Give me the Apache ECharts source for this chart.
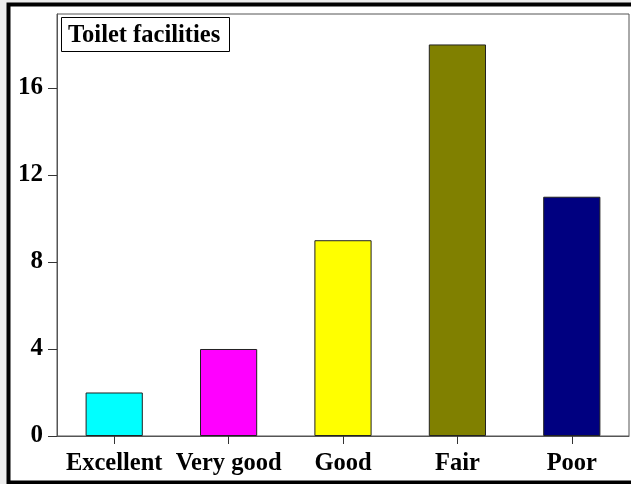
<!DOCTYPE html>
<html>
<head>
<meta charset="utf-8">
<script src="https://cdn.jsdelivr.net/npm/echarts@6/dist/echarts.min.js"></script>
<style>
  html, body { margin: 0; padding: 0; background: #ececec; }
  #chart { width: 631px; height: 484px; }
</style>
</head>
<body>
<div id="chart"></div>
<script>
// Ratings of toilet facilities
const categories = ['Excellent', 'Very good', 'Good', 'Fair', 'Poor'];
const counts = [2, 4, 9, 18, 11];
const barColors = ['#00ffff', '#ff00ff', '#ffff00', '#808000', '#000080'];
const yTicks = [0, 4, 8, 12, 16];

const serif = '"Liberation Serif", "Times New Roman", serif';

const chart = echarts.init(document.getElementById('chart'), null, { renderer: 'canvas' });

chart.setOption({
  animation: false,
  backgroundColor: 'transparent',
  graphic: [
    {
      type: 'rect',
      shape: { x: 8.5, y: 4.5, width: 660, height: 478 },
      style: { fill: '#ffffff', stroke: '#000000', lineWidth: 4 },
      z: -10
    }
  ],
  title: {
    text: 'Toilet facilities',
    left: 61,
    top: 17,
    padding: [6, 10, 4, 7],
    borderColor: '#000000',
    borderWidth: 1,
    backgroundColor: '#ffffff',
    textStyle: {
      fontFamily: serif,
      fontWeight: 'bold',
      fontSize: 24.5,
      color: '#000000',
      lineHeight: 25
    }
  },
  grid: {
    left: 57,
    right: 2,
    top: 14,
    bottom: 48,
    show: true,
    borderColor: '#555555',
    borderWidth: 1,
    backgroundColor: 'transparent'
  },
  xAxis: {
    type: 'category',
    data: categories,
    boundaryGap: true,
    axisLine: { show: true, lineStyle: { color: '#555555', width: 1 } },
    axisTick: { show: true, alignWithLabel: true, length: 8, lineStyle: { color: '#333333' } },
    axisLabel: {
      margin: 15,
      fontFamily: serif,
      fontWeight: 'bold',
      fontSize: 24.5,
      color: '#000000',
      interval: 0
    },
    splitLine: { show: false }
  },
  yAxis: {
    type: 'value',
    min: 0,
    max: 19.4,
    interval: 4,
    axisLine: { show: true, lineStyle: { color: '#555555', width: 1 } },
    axisTick: { show: true, length: 9, customValues: yTicks, lineStyle: { color: '#333333' } },
    axisLabel: {
      margin: 14,
      customValues: yTicks,
      fontFamily: serif,
      fontWeight: 'bold',
      fontSize: 25,
      color: '#000000'
    },
    splitLine: { show: false }
  },
  series: [
    {
      type: 'bar',
      data: counts.map((v, i) => ({ value: v, itemStyle: { color: barColors[i] } })),
      barWidth: '50%',
      itemStyle: { borderColor: '#222222', borderWidth: 1 }
    }
  ]
});
</script>
</body>
</html>
